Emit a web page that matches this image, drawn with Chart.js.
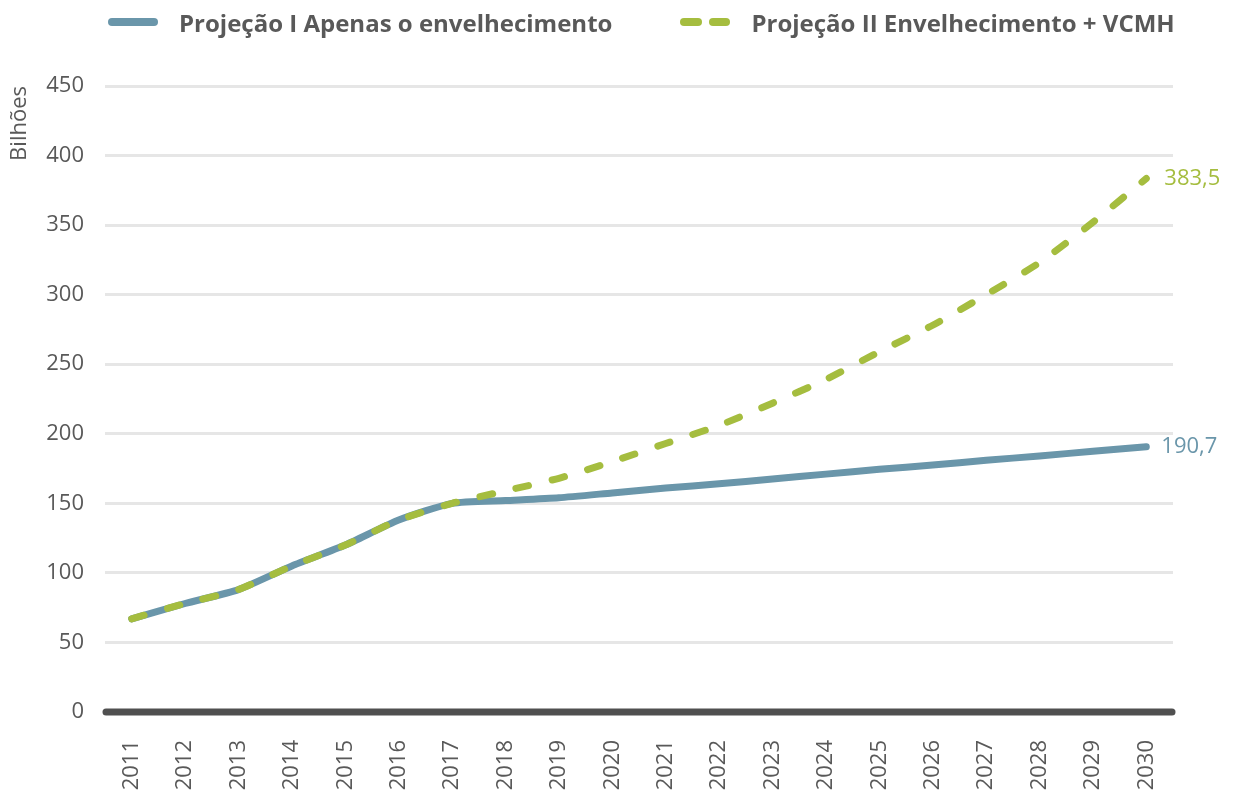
<!DOCTYPE html>
<html lang="pt">
<head>
<meta charset="utf-8">
<title>Projeção</title>
<script src="https://cdn.jsdelivr.net/npm/chart.js@4.4.1/dist/chart.umd.min.js"></script>
<style>
    html, body { margin: 0; padding: 0; background: #ffffff; }
    #wrap { position: relative; width: 1233px; height: 794px; }
    #chartLegend {
        position: absolute; top: 0; left: 0; height: 44px;
        display: flex; align-items: center; padding-left: 108px;
        font-family: "Open Sans", sans-serif; font-weight: 700; font-size: 24px; color: #595959;
    }
    .legend-item { display: flex; align-items: center; margin-right: 68px; }
    .legend-mark { display: flex; width: 50px; height: 8px; justify-content: space-between; }
    .legend-mark span { display: block; height: 8px; border-radius: 4px; }
    .legend-text { margin-left: 21px; white-space: nowrap; }
</style>
</head>
<body>
<div id="wrap">
    <div id="chartLegend"></div>
    <canvas id="projChart" width="1233" height="794"></canvas>
</div>
<script>
const years = ["2011", "2012", "2013", "2014", "2015", "2016", "2017", "2018", "2019", "2020",
    "2021", "2022", "2023", "2024", "2025", "2026", "2027", "2028", "2029", "2030"];
const projecaoI = [67, 78, 88, 105, 120, 138, 150, 152, 154, 157.5,
    161, 164, 167.5, 171, 174.5, 177.5, 181, 184, 187.5, 190.7];
const projecaoII = [67, 78, 88, 105, 120, 138, 150, 159, 168, 180,
    193, 206, 222, 239, 259, 278, 300, 323, 352, 383.5];
const endLabels = ["190,7", "383,5"];
const yTicks = [0, 50, 100, 150, 200, 250, 300, 350, 400, 450];

const BLUE = "#6a96aa";
const GREEN = "#a5bd3f";
const TEXT = "#595959";
const FONT = "'Open Sans', sans-serif";

const htmlLegend = {
    id: "htmlLegend",
    afterUpdate(chart) {
        const box = document.getElementById("chartLegend");
        const items = chart.options.plugins.legend.labels.generateLabels(chart)
            .sort((a, b) => a.datasetIndex - b.datasetIndex);
        box.innerHTML = items.map(item => {
            const color = item.strokeStyle;
            const mark = item.lineDash && item.lineDash.length
                ? `<span style="width:22px;background:${color}"></span><span style="width:21px;background:${color}"></span>`
                : `<span style="width:50px;background:${color}"></span>`;
            return `<div class="legend-item"><div class="legend-mark">${mark}</div><div class="legend-text">${item.text}</div></div>`;
        }).join("");
    }
};

// thick dark baseline at zero, with rounded ends
const zeroLine = {
    id: "zeroLine",
    beforeDatasetsDraw(chart) {
        const { ctx, chartArea } = chart;
        const y = chart.scales.y.getPixelForValue(0);
        ctx.save();
        ctx.strokeStyle = "#505050";
        ctx.lineWidth = 7;
        ctx.lineCap = "round";
        ctx.beginPath();
        ctx.moveTo(chartArea.left + 1, y);
        ctx.lineTo(chartArea.right - 1, y);
        ctx.stroke();
        ctx.restore();
    }
};

const endLabelPlugin = {
    id: "endLabels",
    afterDatasetsDraw(chart) {
        const ctx = chart.ctx;
        ctx.save();
        ctx.font = `22px ${FONT}`;
        ctx.textBaseline = "middle";
        ctx.textAlign = "left";
        chart.data.datasets.forEach((ds, i) => {
            const meta = chart.getDatasetMeta(i);
            const pt = meta.data[meta.data.length - 1];
            ctx.fillStyle = ds.borderColor;
            ctx.fillText(endLabels[i], pt.x + (i === 0 ? 15 : 18), pt.y);
        });
        ctx.restore();
    }
};

new Chart(document.getElementById("projChart"), {
    type: "line",
    data: {
        labels: years,
        datasets: [{
            label: "Projeção I Apenas o envelhecimento",
            data: projecaoI,
            borderColor: BLUE,
            backgroundColor: BLUE,
            borderWidth: 7,
            borderCapStyle: "round",
            borderJoinStyle: "round",
            pointRadius: 0,
            tension: 0.2,
            order: 1
        }, {
            label: "Projeção II Envelhecimento + VCMH",
            data: projecaoII,
            borderColor: GREEN,
            backgroundColor: GREEN,
            borderWidth: 7,
            borderDash: [13, 24],
            borderCapStyle: "round",
            borderJoinStyle: "round",
            pointRadius: 0,
            tension: 0.2,
            order: 0
        }]
    },
    options: {
        responsive: false,
        animation: false,
        layout: { padding: { top: 86, right: 60, left: 0, bottom: 0 } },
        plugins: {
            legend: { display: false },
            tooltip: { enabled: false }
        },
        scales: {
            x: {
                offset: true,
                grid: { display: false, drawTicks: false },
                border: { display: false },
                ticks: {
                    color: TEXT,
                    font: { family: FONT, size: 22 },
                    minRotation: 90,
                    maxRotation: 90,
                    padding: 28,
                    autoSkip: false
                },
                afterFit(scale) { scale.height = 82; }
            },
            y: {
                min: 0,
                max: 450,
                afterBuildTicks(scale) { scale.ticks = yTicks.map(v => ({ value: v })); },
                grid: {
                    drawTicks: false,
                    color: ctx => ctx.tick && ctx.tick.value === 0 ? "rgba(0,0,0,0)" : "#e6e6e6",
                    lineWidth: 3
                },
                border: { display: false },
                ticks: {
                    color: TEXT,
                    font: { family: FONT, size: 22 },
                    padding: 21
                },
                title: {
                    display: true,
                    text: "Bilhões",
                    align: "end",
                    color: TEXT,
                    font: { family: FONT, size: 22 },
                    padding: { top: 7, bottom: 0 }
                },
                afterFit(scale) { scale.width = 105; }
            }
        }
    },
    plugins: [htmlLegend, zeroLine, endLabelPlugin]
});
</script>
</body>
</html>
